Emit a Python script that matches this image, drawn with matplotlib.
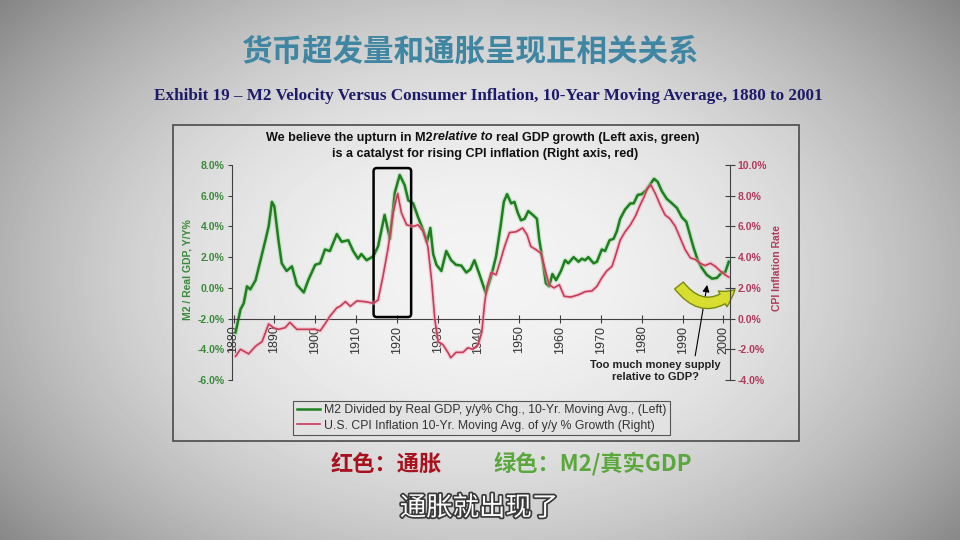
import numpy as np
import matplotlib
matplotlib.use("Agg")
import matplotlib.pyplot as plt
from matplotlib.patches import Rectangle, FancyBboxPatch, FancyArrowPatch
from matplotlib.lines import Line2D
import matplotlib.patheffects as pe

SANS = ['Liberation Sans', 'DejaVu Sans']
CJK = ['Noto Sans CJK SC', 'DejaVu Sans']
plt.rcParams['font.family'] = SANS

# M2 / real GDP, y/y %, 10-yr moving avg (left axis)
green_years = [1880.5, 1881.7, 1882.5, 1883.3, 1884.1, 1885.4, 1886.6, 1887.8, 1888.6, 1889.4,
               1890.0, 1891.0, 1891.8, 1893.0, 1894.3, 1895.5, 1897.2, 1898.3, 1900.0, 1901.2,
               1902.4, 1903.6, 1905.3, 1906.5, 1908.1, 1909.3, 1910.5, 1911.3, 1912.6, 1914.2,
               1915.4, 1917.0, 1918.3, 1919.5, 1920.7, 1921.9, 1922.8, 1924.0, 1925.2, 1926.4,
               1927.4, 1928.2, 1928.9, 1929.7, 1930.9, 1932.1, 1933.3, 1934.5, 1935.8, 1937.0,
               1938.0, 1939.0, 1940.2, 1941.8, 1943.1, 1944.3, 1945.4, 1946.2, 1947.0, 1948.0,
               1948.8, 1949.6, 1950.4, 1951.3, 1952.2, 1953.3, 1954.3, 1954.9, 1955.7, 1956.5,
               1957.3, 1958.1, 1959.0, 1960.2, 1961.2, 1962.0, 1963.3, 1964.5, 1965.3, 1966.1,
               1966.9, 1968.2, 1969.0, 1970.2, 1971.0, 1972.1, 1973.1, 1973.9, 1974.7, 1975.9,
               1977.2, 1978.0, 1979.0, 1980.0, 1981.2, 1982.2, 1983.0, 1983.9, 1984.9, 1986.1,
               1987.4, 1988.6, 1989.8, 1990.9, 1991.9, 1992.7, 1993.7, 1994.7, 1995.9, 1997.2,
               1998.4, 1999.6, 2000.4, 2001.3]
green_vals = [-2.9, -1.4, -1.0, 0.1, -0.1, 0.5, 1.8, 3.1, 4.0, 5.6,
              5.3, 3.1, 1.6, 1.1, 1.4, 0.2, -0.3, 0.5, 1.5, 1.6,
              2.5, 2.4, 3.5, 3.0, 3.1, 2.4, 1.9, 2.2, 1.8, 2.05,
              2.7, 4.75, 3.2, 6.2, 7.35, 6.7, 5.7, 5.5, 4.6, 3.8,
              3.0, 3.9, 2.2, 1.5, 1.1, 2.4, 1.8, 1.5, 1.45, 1.0,
              1.2, 1.8, 0.9, -0.35, 0.75, 2.05, 4.0, 5.6, 6.1, 5.5,
              5.6, 4.9, 4.4, 4.5, 5.0, 4.75, 4.5, 3.1, 1.8, 0.3,
              0.1, 0.9, 0.5, 1.1, 1.8, 1.6, 2.0, 1.7, 1.9, 1.8,
              2.0, 1.6, 1.7, 2.5, 2.4, 3.1, 3.2, 3.7, 4.5, 5.1,
              5.5, 5.5, 6.05, 6.1, 6.4, 6.8, 7.1, 6.9, 6.3, 5.8,
              5.5, 5.2, 4.6, 4.3, 3.35, 2.6, 1.8, 1.3, 0.85, 0.6,
              0.65, 1.0, 1.0, 1.7]

# US CPI inflation, 10-yr moving avg (right axis)
red_years = [1880.5, 1881.7, 1883.7, 1885.4, 1887.0, 1888.6, 1889.8, 1891.0, 1892.6, 1893.8,
             1895.5, 1897.6, 1900.0, 1901.2, 1902.4, 1903.6, 1905.3, 1906.1, 1907.4, 1908.6,
             1910.2, 1912.2, 1914.2, 1915.4, 1916.6, 1917.8, 1919.1, 1920.2, 1921.1, 1922.4,
             1924.0, 1925.2, 1926.4, 1927.6, 1928.5, 1929.3, 1930.1, 1931.3, 1932.5, 1933.2,
             1934.5, 1936.2, 1937.4, 1938.6, 1939.9, 1940.8, 1941.5, 1942.1, 1943.1, 1944.3,
             1945.4, 1946.4, 1947.6, 1949.2, 1950.8, 1951.9, 1952.8, 1954.0, 1955.3, 1956.5,
             1957.3, 1958.5, 1959.8, 1961.0, 1962.6, 1964.5, 1966.1, 1967.8, 1969.0, 1970.2,
             1971.4, 1972.7, 1973.5, 1974.7, 1975.9, 1977.2, 1978.4, 1979.6, 1980.6, 1981.4,
             1982.2, 1983.3, 1984.5, 1985.7, 1986.9, 1988.2, 1989.4, 1990.6, 1991.9, 1993.1,
             1994.3, 1995.5, 1996.8, 1998.0, 1999.2, 2000.4, 2001.3]
red_vals = [-2.45, -2.0, -2.3, -1.8, -1.5, -0.35, -0.6, -0.7, -0.6, -0.25,
            -0.7, -0.7, -0.7, -0.8, -0.35, 0.15, 0.7, 0.8, 1.1, 0.8,
            1.15, 1.1, 1.0, 1.2, 2.75, 4.5, 6.9, 8.15, 6.9, 6.1,
            6.0, 6.1, 5.7, 4.7, 2.5, -0.05, -1.5, -1.7, -2.2, -2.55,
            -2.2, -2.2, -1.9, -2.0, -1.7, -0.9, 1.0, 2.1, 3.0, 2.85,
            3.8, 4.7, 5.6, 5.65, 5.9, 5.45, 4.7, 4.5, 4.25, 3.0,
            2.2, 2.0, 2.2, 1.45, 1.4, 1.55, 1.75, 1.8, 2.1, 2.65,
            3.1, 3.4, 4.05, 5.1, 5.65, 6.1, 6.65, 7.4, 7.95, 8.5,
            8.7, 8.15, 7.4, 6.75, 6.5, 6.0, 5.25, 4.5, 3.95, 3.85,
            3.6, 3.45, 3.6, 3.4, 3.1, 2.85, 2.7]

decades = list(range(1880, 2001, 10))
left_ticks = [-6, -4, -2, 0, 2, 4, 6, 8]
right_ticks = [-4, -2, 0, 2, 4, 6, 8, 10]

legend_labels = ["M2 Divided by Real GDP, y/y% Chg., 10-Yr. Moving Avg., (Left)",
                 "U.S. CPI Inflation 10-Yr. Moving Avg. of y/y % Growth (Right)"]

GREEN = '#1e7f1e'
RED = '#c83a58'

W, H = 960, 540


def fx(px):
    return px / W


def fy(py):
    return 1 - py / H


fig = plt.figure(figsize=(9.6, 5.4), dpi=100)

# grey vignette backdrop
bg = fig.add_axes([0, 0, 1, 1], zorder=-10)
yy, xx = np.mgrid[0:H, 0:W]
r2 = ((xx - 480) / 620.0) ** 2 + ((yy - 275) / 420.0) ** 2
shade = np.clip(0.95 - 0.42 * r2, 0, 1)
bg.imshow(shade, cmap='gray', vmin=0, vmax=1, extent=[0, W, H, 0], aspect='auto')
bg.set_xlim(0, W)
bg.set_ylim(H, 0)
bg.axis('off')
bg.add_patch(Rectangle((172.5, 125), 626.5, 316, fc=(1, 1, 1, 0.12), ec='#4a4a4a', lw=1.2))

# main chart
ax = fig.add_axes([fx(231.5), fy(380), fx(730) - fx(231.5), fy(165) - fy(380)])
ax.patch.set_visible(False)
ax2 = ax.twinx()

ax.plot(green_years, green_vals, color='#8fd08f', lw=3.6, alpha=0.35)
ax.plot(green_years, green_vals, color=GREEN, lw=1.8)
ax2.plot(red_years, red_vals, color='#f2a5b5', lw=3.0, alpha=0.45)
ax2.plot(red_years, red_vals, color=RED, lw=1.2)

ax.set_xlim(1879.5, 2001.6)
ax.set_ylim(-6, 8)
ax2.set_ylim(-4, 10)

for s in ['top', 'right']:
    ax.spines[s].set_visible(False)
for s in ['top', 'left', 'bottom']:
    ax2.spines[s].set_visible(False)
ax.spines['bottom'].set_position(('data', -2))
for sp in [ax.spines['left'], ax.spines['bottom'], ax2.spines['right']]:
    sp.set_color('#404040')
    sp.set_linewidth(0.8)

ax.set_xticks(decades)
ax.set_xticklabels([str(d) for d in decades], rotation=90, fontsize=9, color='#333333')
ax.tick_params(axis='x', direction='inout', length=6, width=0.8, color='#404040', pad=2)

ax.set_yticks(left_ticks)
ax.set_yticklabels([f'{v:.1f}%' for v in left_ticks], fontsize=7.5, fontweight='bold', color='#3a8a3a')
ax.tick_params(axis='y', direction='out', length=3, width=0.8, color='#404040', pad=2)

ax2.set_yticks(right_ticks)
ax2.set_yticklabels([f'{v:.1f}%' for v in right_ticks], fontsize=7.5, fontweight='bold', color='#b03a5c')
ax2.tick_params(axis='y', direction='inout', length=7, width=0.8, color='#404040', pad=2)

fig.text(fx(188), fy(270), 'M2 / Real GDP, Y/Y%', rotation=90, ha='center', va='center',
         fontsize=7.5, fontweight='bold', color='#3a8a3a')
fig.text(fx(777), fy(268), 'CPI Inflation Rate', rotation=90, ha='center', va='center',
         fontsize=7.5, fontweight='bold', color='#b03a5c')

# highlight box around 1915-1923
ax.add_patch(FancyBboxPatch((1914.3, -1.9), 9.2, 9.7, boxstyle='round,pad=0,rounding_size=0.8',
                            mutation_aspect=0.266, fc='none', ec='black', lw=1.8, zorder=5))

# yellow curved arrow
ax.add_patch(FancyArrowPatch((1988.7, 0.3), (2003.3, 0.0), connectionstyle='arc3,rad=0.58',
                             arrowstyle='simple,head_length=11,head_width=13,tail_width=8',
                             fc='#d8de30', ec='#7a8a10', lw=1, clip_on=False, zorder=4))

ax.annotate('Too much money supply\nrelative to GDP?', xy=(1996.0, 0.19), xytext=(1983.3, -5.4),
            ha='center', va='center', fontsize=8, fontweight='bold', color='#222222',
            annotation_clip=False,
            arrowprops=dict(arrowstyle='-|>,head_length=0.5,head_width=0.25', color='black',
                            lw=0.8, relpos=(0.8, 1.0), shrinkA=1, shrinkB=0))

# legend
handles = [Line2D([], [], color=GREEN, lw=1.8), Line2D([], [], color=RED, lw=1.2)]
leg = fig.legend(handles, legend_labels, loc='center', bbox_to_anchor=(fx(481.5), fy(418)),
                 frameon=True, fancybox=False, edgecolor='#555555', facecolor='#e2e2e2',
                 framealpha=1, fontsize=8.8, handlelength=1.9, handletextpad=0.3,
                 borderpad=0.3, labelspacing=0.25)
leg.get_frame().set_linewidth(0.8)
for t in leg.get_texts():
    t.set_color('#333333')

# chart title, first line has an italic part
renderer = fig.canvas.get_renderer()
TS = 9.1
parts = [("We believe the upturn in M2", 'normal'), ("relative to", 'italic'),
         ("real GDP growth (Left axis, green)", 'normal')]
probe1 = fig.text(0, 0, 'x x', fontsize=TS, fontweight='bold')
probe2 = fig.text(0, 0, 'xx', fontsize=TS, fontweight='bold')
space = probe1.get_window_extent(renderer).width - probe2.get_window_extent(renderer).width
probe1.remove()
probe2.remove()
pieces = []
widths = []
for txt, style in parts:
    t = fig.text(0, fy(140.5), txt, fontsize=TS, fontweight='bold', fontstyle=style,
                 color='#111111', ha='left', va='baseline')
    pieces.append(t)
    widths.append(t.get_window_extent(renderer).width)
gaps = [0, 0, space]
total = sum(widths) + sum(gaps)
xpos = 483 - total / 2
for t, w, g in zip(pieces, widths, gaps):
    xpos += g
    t.set_x(fx(xpos))
    xpos += w
fig.text(fx(485), fy(157), 'is a catalyst for rising CPI inflation (Right axis, red)', fontsize=TS,
         fontweight='bold', color='#111111', ha='center', va='baseline')

# page texts
fig.text(fx(471), fy(51.5), '货币超发量和通胀呈现正相关关系', family=CJK, fontsize=22,
         fontweight='bold', color='#3f86a3', ha='center', va='center')
fig.text(fx(488), fy(95.5),
         'Exhibit 19 \u2013 M2 Velocity Versus Consumer Inflation, 10-Year Moving Average, 1880 to 2001',
         family=['Liberation Serif', 'DejaVu Serif'], fontsize=12.3, fontweight='bold',
         color='#1c1c6a', ha='center', va='center')
fig.text(fx(386), fy(464), '红色：通胀', family=CJK, fontsize=16, fontweight='bold',
         color='#a8121e', ha='center', va='center')
fig.text(fx(593), fy(464), '绿色：M2/真实GDP', family=CJK, fontsize=16, fontweight='bold',
         color='#5aa83c', ha='center', va='center')
fig.text(fx(479), fy(508), '通胀就出现了', family=CJK, fontsize=19, color='white',
         ha='center', va='center',
         path_effects=[pe.withStroke(linewidth=2.5, foreground='#3a3a3a')])

fig.savefig('out.png', dpi=100)
